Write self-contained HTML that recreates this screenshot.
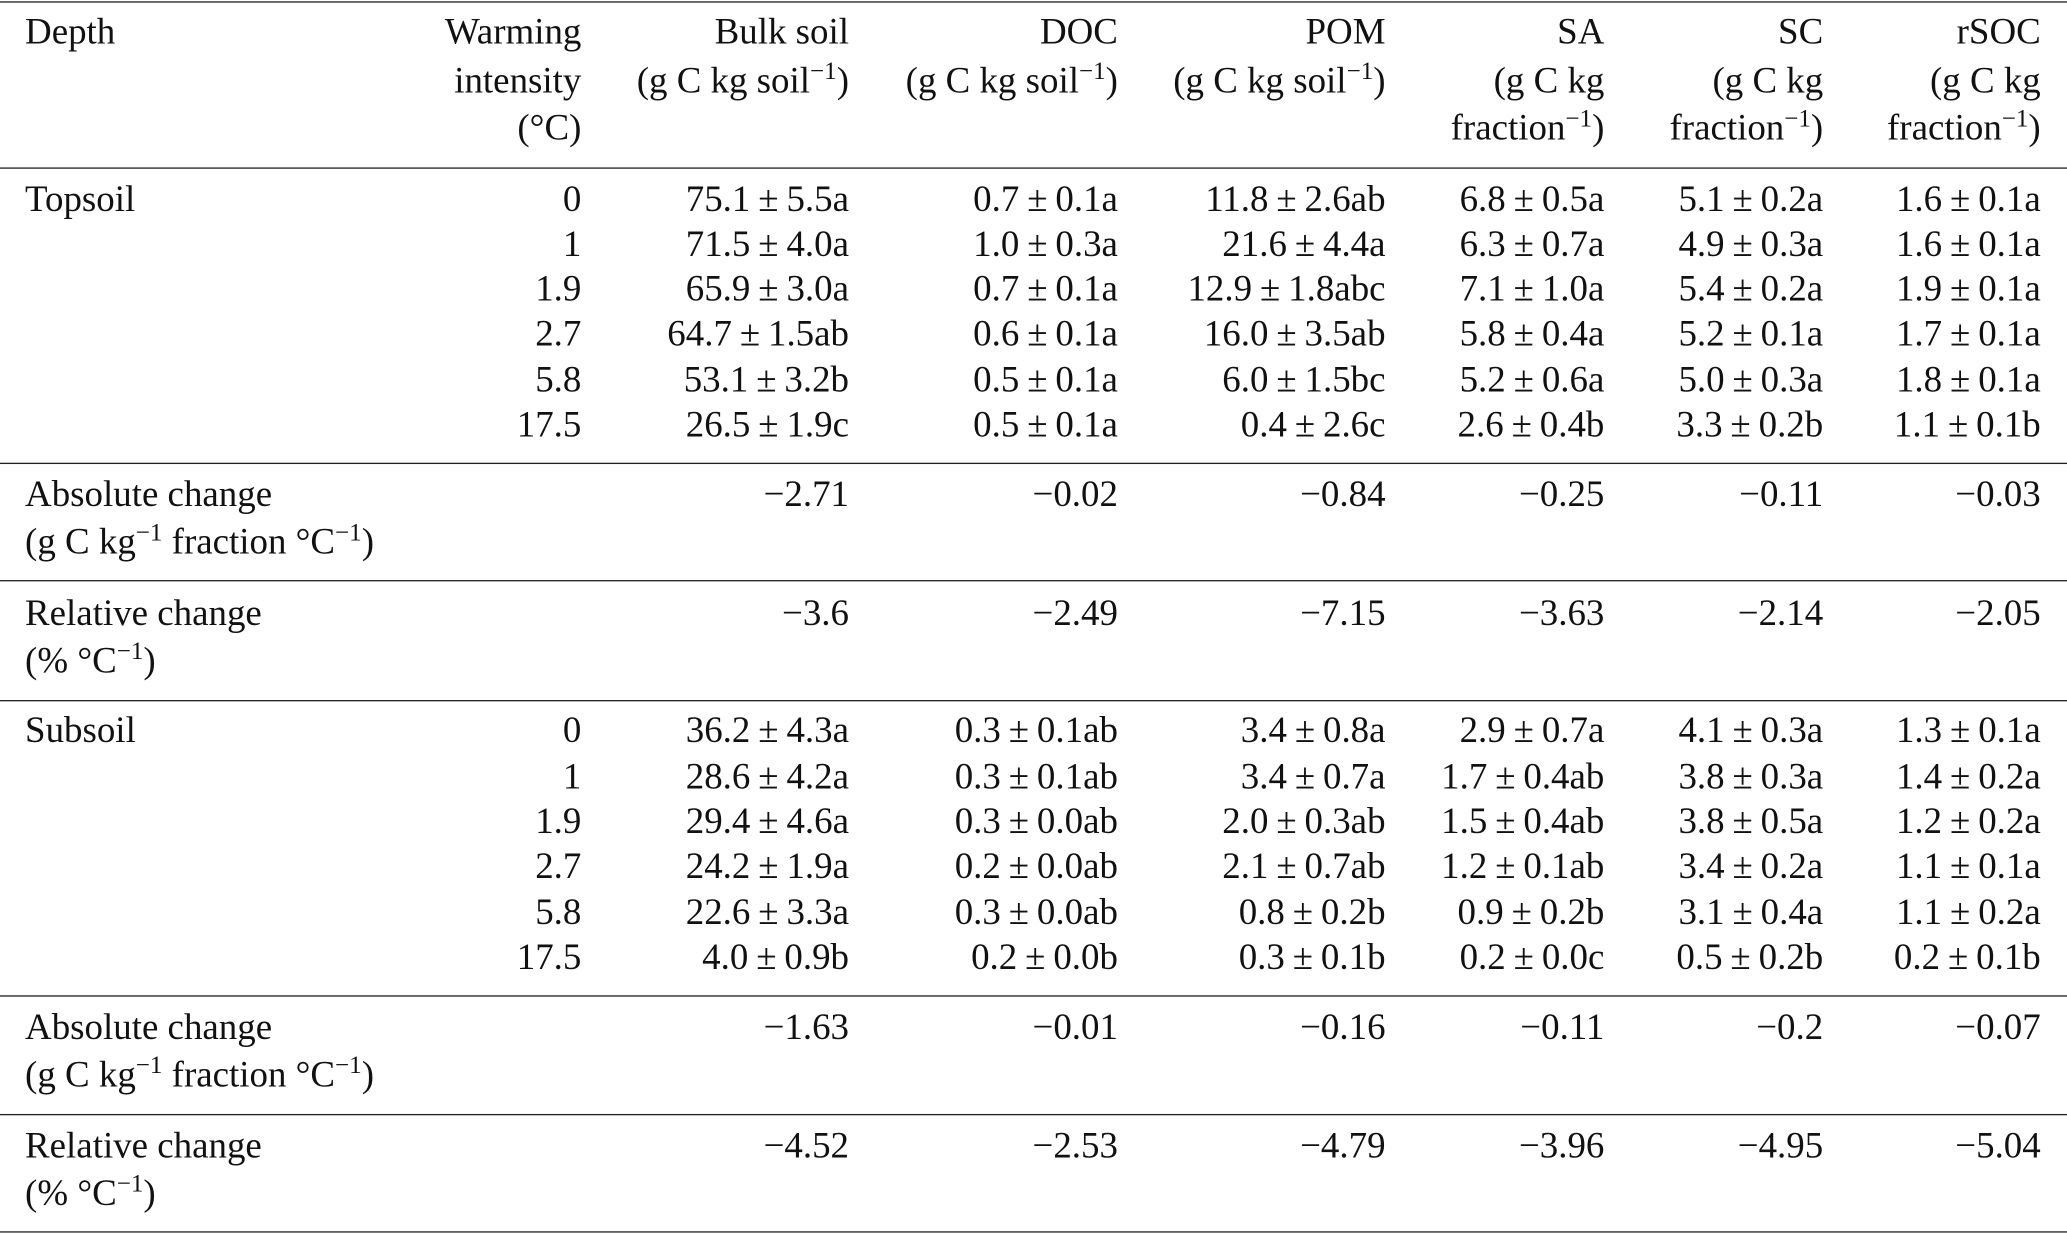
<!DOCTYPE html>
<html><head><meta charset="utf-8"><style>
html,body{margin:0;padding:0;background:#fff;}
body{width:2067px;height:1234px;overflow:hidden;position:relative;}
#w{position:absolute;left:0;top:0;width:1568px;height:936px;transform:scale(1.3183);transform-origin:0 0;font-family:"Liberation Serif",serif;font-size:28px;color:#111;}
.row{position:absolute;left:0;width:1568px;height:28px;line-height:28px;}
.row > span{position:absolute;white-space:nowrap;top:0;}
.pm{margin:0 6px;}
.l{left:19px;}
.c1{right:1127px}.c2{right:924px}.c3{right:720px}.c4{right:517px}.c5{right:351px}.c6{right:185px}.c7{right:20px}
.hl{position:absolute;left:0;width:1568px;height:1.2px;background:#222;}
sup{font-size:19px;line-height:0;vertical-align:10px;}
</style></head><body><div id="w">
<div class="hl" style="top:1px"></div>
<div class="hl" style="top:127px"></div>
<div class="hl" style="top:351px"></div>
<div class="hl" style="top:440px"></div>
<div class="hl" style="top:531px"></div>
<div class="hl" style="top:755px"></div>
<div class="hl" style="top:845px"></div>
<div class="hl" style="top:934px"></div>

<div class="row" style="top:11px"><span class="l">Depth</span><span class="c1">Warming</span><span class="c2">Bulk soil</span><span class="c3">DOC</span><span class="c4">POM</span><span class="c5">SA</span><span class="c6">SC</span><span class="c7">rSOC</span></div>
<div class="row" style="top:48px"><span class="c1">intensity</span><span class="c2">(g C kg soil<sup>−1</sup>)</span><span class="c3">(g C kg soil<sup>−1</sup>)</span><span class="c4">(g C kg soil<sup>−1</sup>)</span><span class="c5">(g C kg</span><span class="c6">(g C kg</span><span class="c7">(g C kg</span></div>
<div class="row" style="top:84px"><span class="c1">(°C)</span><span class="c5">fraction<sup>−1</sup>)</span><span class="c6">fraction<sup>−1</sup>)</span><span class="c7">fraction<sup>−1</sup>)</span></div>

<div class="row" style="top:138px"><span class="l">Topsoil</span><span class="c1">0</span><span class="c2">75.1<span class="pm">±</span>5.5a</span><span class="c3">0.7<span class="pm">±</span>0.1a</span><span class="c4">11.8<span class="pm">±</span>2.6ab</span><span class="c5">6.8<span class="pm">±</span>0.5a</span><span class="c6">5.1<span class="pm">±</span>0.2a</span><span class="c7">1.6<span class="pm">±</span>0.1a</span></div>
<div class="row" style="top:172px"><span class="c1">1</span><span class="c2">71.5<span class="pm">±</span>4.0a</span><span class="c3">1.0<span class="pm">±</span>0.3a</span><span class="c4">21.6<span class="pm">±</span>4.4a</span><span class="c5">6.3<span class="pm">±</span>0.7a</span><span class="c6">4.9<span class="pm">±</span>0.3a</span><span class="c7">1.6<span class="pm">±</span>0.1a</span></div>
<div class="row" style="top:206px"><span class="c1">1.9</span><span class="c2">65.9<span class="pm">±</span>3.0a</span><span class="c3">0.7<span class="pm">±</span>0.1a</span><span class="c4">12.9<span class="pm">±</span>1.8abc</span><span class="c5">7.1<span class="pm">±</span>1.0a</span><span class="c6">5.4<span class="pm">±</span>0.2a</span><span class="c7">1.9<span class="pm">±</span>0.1a</span></div>
<div class="row" style="top:240px"><span class="c1">2.7</span><span class="c2">64.7<span class="pm">±</span>1.5ab</span><span class="c3">0.6<span class="pm">±</span>0.1a</span><span class="c4">16.0<span class="pm">±</span>3.5ab</span><span class="c5">5.8<span class="pm">±</span>0.4a</span><span class="c6">5.2<span class="pm">±</span>0.1a</span><span class="c7">1.7<span class="pm">±</span>0.1a</span></div>
<div class="row" style="top:275px"><span class="c1">5.8</span><span class="c2">53.1<span class="pm">±</span>3.2b</span><span class="c3">0.5<span class="pm">±</span>0.1a</span><span class="c4">6.0<span class="pm">±</span>1.5bc</span><span class="c5">5.2<span class="pm">±</span>0.6a</span><span class="c6">5.0<span class="pm">±</span>0.3a</span><span class="c7">1.8<span class="pm">±</span>0.1a</span></div>
<div class="row" style="top:309px"><span class="c1">17.5</span><span class="c2">26.5<span class="pm">±</span>1.9c</span><span class="c3">0.5<span class="pm">±</span>0.1a</span><span class="c4">0.4<span class="pm">±</span>2.6c</span><span class="c5">2.6<span class="pm">±</span>0.4b</span><span class="c6">3.3<span class="pm">±</span>0.2b</span><span class="c7">1.1<span class="pm">±</span>0.1b</span></div>

<div class="row" style="top:362px"><span class="l">Absolute change</span><span class="c2">−2.71</span><span class="c3">−0.02</span><span class="c4">−0.84</span><span class="c5">−0.25</span><span class="c6">−0.11</span><span class="c7">−0.03</span></div>
<div class="row" style="top:398px"><span class="l">(g C kg<sup>−1</sup> fraction °C<sup>−1</sup>)</span></div>
<div class="row" style="top:452px"><span class="l">Relative change</span><span class="c2">−3.6</span><span class="c3">−2.49</span><span class="c4">−7.15</span><span class="c5">−3.63</span><span class="c6">−2.14</span><span class="c7">−2.05</span></div>
<div class="row" style="top:488px"><span class="l">(% °C<sup>−1</sup>)</span></div>

<div class="row" style="top:541px"><span class="l">Subsoil</span><span class="c1">0</span><span class="c2">36.2<span class="pm">±</span>4.3a</span><span class="c3">0.3<span class="pm">±</span>0.1ab</span><span class="c4">3.4<span class="pm">±</span>0.8a</span><span class="c5">2.9<span class="pm">±</span>0.7a</span><span class="c6">4.1<span class="pm">±</span>0.3a</span><span class="c7">1.3<span class="pm">±</span>0.1a</span></div>
<div class="row" style="top:576px"><span class="c1">1</span><span class="c2">28.6<span class="pm">±</span>4.2a</span><span class="c3">0.3<span class="pm">±</span>0.1ab</span><span class="c4">3.4<span class="pm">±</span>0.7a</span><span class="c5">1.7<span class="pm">±</span>0.4ab</span><span class="c6">3.8<span class="pm">±</span>0.3a</span><span class="c7">1.4<span class="pm">±</span>0.2a</span></div>
<div class="row" style="top:610px"><span class="c1">1.9</span><span class="c2">29.4<span class="pm">±</span>4.6a</span><span class="c3">0.3<span class="pm">±</span>0.0ab</span><span class="c4">2.0<span class="pm">±</span>0.3ab</span><span class="c5">1.5<span class="pm">±</span>0.4ab</span><span class="c6">3.8<span class="pm">±</span>0.5a</span><span class="c7">1.2<span class="pm">±</span>0.2a</span></div>
<div class="row" style="top:644px"><span class="c1">2.7</span><span class="c2">24.2<span class="pm">±</span>1.9a</span><span class="c3">0.2<span class="pm">±</span>0.0ab</span><span class="c4">2.1<span class="pm">±</span>0.7ab</span><span class="c5">1.2<span class="pm">±</span>0.1ab</span><span class="c6">3.4<span class="pm">±</span>0.2a</span><span class="c7">1.1<span class="pm">±</span>0.1a</span></div>
<div class="row" style="top:679px"><span class="c1">5.8</span><span class="c2">22.6<span class="pm">±</span>3.3a</span><span class="c3">0.3<span class="pm">±</span>0.0ab</span><span class="c4">0.8<span class="pm">±</span>0.2b</span><span class="c5">0.9<span class="pm">±</span>0.2b</span><span class="c6">3.1<span class="pm">±</span>0.4a</span><span class="c7">1.1<span class="pm">±</span>0.2a</span></div>
<div class="row" style="top:713px"><span class="c1">17.5</span><span class="c2">4.0<span class="pm">±</span>0.9b</span><span class="c3">0.2<span class="pm">±</span>0.0b</span><span class="c4">0.3<span class="pm">±</span>0.1b</span><span class="c5">0.2<span class="pm">±</span>0.0c</span><span class="c6">0.5<span class="pm">±</span>0.2b</span><span class="c7">0.2<span class="pm">±</span>0.1b</span></div>

<div class="row" style="top:766px"><span class="l">Absolute change</span><span class="c2">−1.63</span><span class="c3">−0.01</span><span class="c4">−0.16</span><span class="c5">−0.11</span><span class="c6">−0.2</span><span class="c7">−0.07</span></div>
<div class="row" style="top:802px"><span class="l">(g C kg<sup>−1</sup> fraction °C<sup>−1</sup>)</span></div>
<div class="row" style="top:856px"><span class="l">Relative change</span><span class="c2">−4.52</span><span class="c3">−2.53</span><span class="c4">−4.79</span><span class="c5">−3.96</span><span class="c6">−4.95</span><span class="c7">−5.04</span></div>
<div class="row" style="top:892px"><span class="l">(% °C<sup>−1</sup>)</span></div>
</div></body></html>
